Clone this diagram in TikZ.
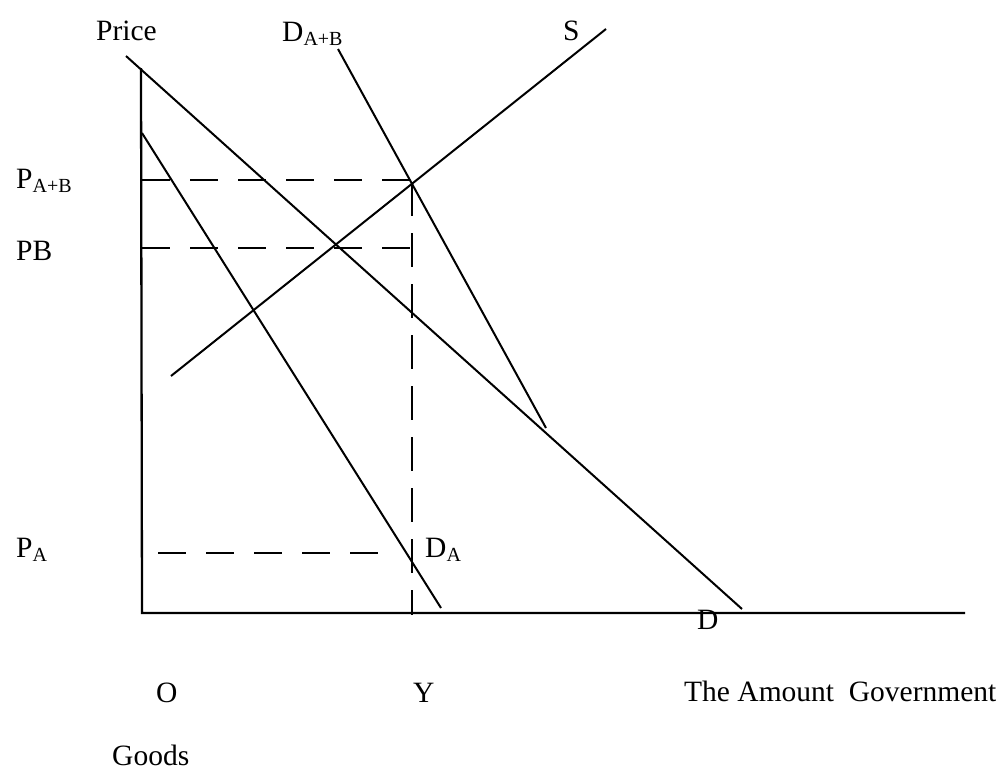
\documentclass[tikz,border=0pt]{standalone}
\usepackage{fontspec}
\setmainfont{Liberation Serif}
\newcommand{\subtxt}[1]{\raisebox{-4.5pt}{\fontsize{20}{20}\selectfont #1}}
\begin{document}
\begin{tikzpicture}[x=1pt,y=-1pt,
  curve/.style={line width=2pt},
  axisline/.style={line width=2.3pt},
  hdash/.style={line width=2pt, dash pattern=on 28pt off 20pt},
  vdash/.style={line width=2pt, dash pattern=on 34pt off 17pt},
  lbl/.style={anchor=base west, inner sep=0pt, font=\fontsize{29.5}{30}\selectfont}]
\useasboundingbox (0,0) rectangle (1006,772);
% coordinates
\coordinate (axTop) at (141,68);
\coordinate (O) at (142,613);
\coordinate (axEnd) at (965,613);
\coordinate (Dtop) at (126,56);
\coordinate (Dbot) at (742,609);
\coordinate (DAtop) at (142,133);
\coordinate (DAbot) at (441,608);
\coordinate (DABtop) at (338,49);
\coordinate (DABbot) at (546,428);
\coordinate (Sbot) at (171,376);
\coordinate (Stop) at (606,29);
\coordinate (E) at (412,182);
\coordinate (PABl) at (142,180);
\coordinate (PABr) at (412,180);
\coordinate (PBl) at (142,248);
\coordinate (PBr) at (412,248);
\coordinate (PAl) at (158,553);
\coordinate (PAr) at (383,553);
\coordinate (Yax) at (412,615);
% axes
\draw[axisline] (axTop) -- (O) -- (axEnd);
% curves
\draw[curve] (Dtop) -- (Dbot);
\draw[curve] (DAtop) -- (DAbot);
\draw[curve] (DABtop) -- (DABbot);
\draw[curve] (Sbot) -- (Stop);
% dashed guides
\draw[hdash] (PABl) -- (PABr);
\draw[hdash] (PBl) -- (PBr);
\draw[hdash] (PAl) -- (PAr);
\draw[vdash] (E) -- (Yax);
% labels
\node[lbl] (tPrice) at (96,40) {Price};
\node[lbl] (tDAB) at (282,41) {D\subtxt{A+B}};
\node[lbl] (tS) at (563,40) {S};
\node[lbl] (tPAB) at (16,188) {P\subtxt{A+B}};
\node[lbl] (tPB) at (16,260) {PB};
\node[lbl] (tPA) at (16,557) {P\subtxt{A}};
\node[lbl] (tDA) at (425,557) {D\subtxt{A}};
\node[lbl] (tD) at (697,629) {D};
\node[lbl] (tO) at (156,702) {O};
\node[lbl] (tY) at (413,702) {Y};
\node[lbl] (tAmt) at (684,701) {The Amount~~Government};
\node[lbl] (tGoods) at (112,765) {Goods};
\end{tikzpicture}
\end{document}
